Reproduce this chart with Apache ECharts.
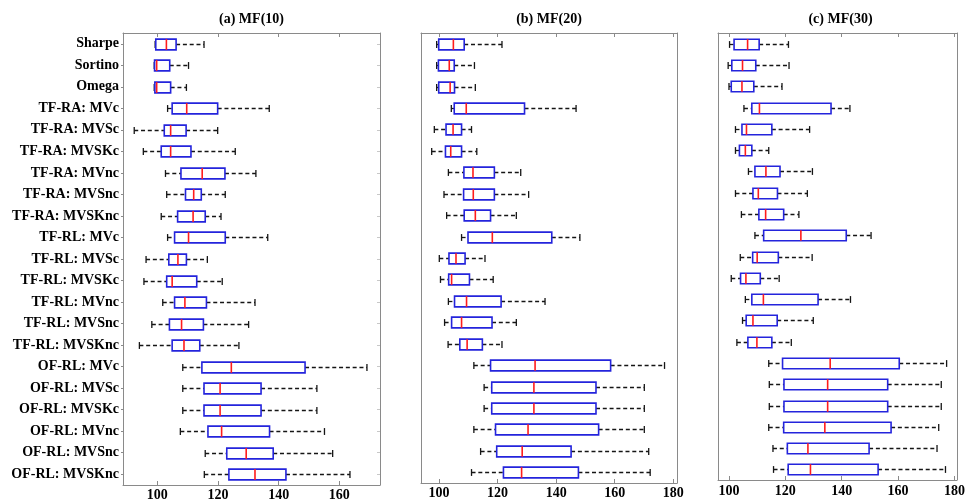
<!DOCTYPE html>
<html>
<head>
<meta charset="utf-8">
<script src="https://cdn.jsdelivr.net/npm/echarts@6/dist/echarts.min.js"></script>
<style>
html,body{margin:0;padding:0;background:#fff;}
#c{width:968px;height:502px;}
</style>
</head>
<body>
<div id="c"></div>
<script>
// ---- data ----
const categories = [
  'Sharpe','Sortino','Omega',
  'TF-RA: MVc','TF-RA: MVSc','TF-RA: MVSKc','TF-RA: MVnc','TF-RA: MVSnc','TF-RA: MVSKnc',
  'TF-RL: MVc','TF-RL: MVSc','TF-RL: MVSKc','TF-RL: MVnc','TF-RL: MVSnc','TF-RL: MVSKnc',
  'OF-RL: MVc','OF-RL: MVSc','OF-RL: MVSKc','OF-RL: MVnc','OF-RL: MVSnc','OF-RL: MVSKnc'
];
const panelTitles = ['(a) MF(10)', '(b) MF(20)', '(c) MF(30)'];
// [lower whisker, Q1, median, Q3, upper whisker]
const mf10 = [
  [99.3, 99.5, 103.0, 106.2, 115.4],
  [99.0, 99.1, 99.8, 104.1, 110.3],
  [99.0, 99.2, 99.8, 104.4, 109.6],
  [103.4, 104.9, 109.7, 119.9, 136.9],
  [92.4, 102.3, 104.4, 109.5, 119.9],
  [95.4, 101.3, 104.4, 111.1, 125.7],
  [102.7, 107.8, 114.8, 122.3, 132.5],
  [103.1, 109.3, 112.0, 114.5, 122.4],
  [101.3, 106.7, 111.8, 115.8, 121.0],
  [103.4, 105.7, 110.3, 122.4, 136.4],
  [96.3, 103.8, 106.8, 109.6, 116.5],
  [95.6, 103.1, 104.9, 113.0, 121.4],
  [101.8, 105.7, 109.1, 116.2, 132.2],
  [98.2, 104.0, 108.0, 115.2, 130.1],
  [94.1, 104.9, 108.8, 114.0, 126.9],
  [108.4, 114.7, 124.4, 148.7, 169.1],
  [108.4, 115.4, 120.7, 134.2, 152.6],
  [108.4, 115.4, 120.7, 134.2, 152.6],
  [107.6, 116.7, 121.2, 137.0, 155.1],
  [115.8, 122.9, 129.3, 138.2, 157.8],
  [115.5, 123.6, 132.2, 142.4, 163.5]
];
const mf20 = [
  [99.2, 99.9, 104.9, 108.6, 121.5],
  [99.2, 99.8, 103.5, 105.2, 112.1],
  [99.2, 99.9, 103.8, 105.3, 112.4],
  [104.2, 105.2, 109.3, 129.2, 146.8],
  [98.4, 102.4, 104.8, 107.7, 111.1],
  [97.5, 102.2, 104.0, 107.7, 112.9],
  [103.2, 108.5, 111.6, 118.9, 127.9],
  [101.7, 108.4, 111.7, 118.9, 130.6],
  [102.6, 108.6, 112.4, 117.6, 126.4],
  [107.7, 109.9, 118.2, 138.5, 148.1],
  [100.1, 103.4, 105.8, 108.9, 115.7],
  [100.5, 103.3, 104.3, 110.4, 118.5],
  [103.2, 105.3, 109.4, 121.2, 136.2],
  [101.9, 104.3, 107.7, 118.1, 126.4],
  [103.1, 107.1, 109.6, 114.8, 121.5],
  [111.9, 117.6, 132.8, 158.6, 177.0],
  [115.4, 118.0, 132.4, 153.6, 170.1],
  [115.4, 118.0, 132.4, 153.6, 170.1],
  [111.9, 119.3, 130.4, 154.5, 170.1],
  [114.2, 119.7, 128.4, 145.1, 171.6],
  [111.1, 122.0, 128.2, 147.6, 172.1]
];
const mf30 = [
  [100.2, 101.8, 106.6, 110.7, 121.1],
  [99.7, 101.0, 104.8, 109.5, 121.3],
  [100.0, 100.8, 104.6, 108.8, 118.8],
  [105.3, 108.1, 110.8, 136.2, 142.9],
  [102.3, 104.6, 106.2, 115.2, 128.6],
  [102.3, 103.7, 105.8, 108.1, 114.1],
  [106.9, 109.2, 113.1, 118.1, 129.6],
  [102.3, 108.5, 110.4, 117.2, 127.8],
  [104.4, 110.6, 113.0, 119.4, 124.8],
  [109.2, 112.3, 125.5, 141.6, 150.4],
  [104.0, 108.4, 110.0, 117.5, 129.5],
  [100.8, 104.1, 106.0, 111.1, 117.8],
  [105.8, 108.1, 112.2, 131.6, 143.1],
  [104.8, 106.1, 108.5, 117.1, 129.9],
  [102.8, 106.7, 109.9, 115.2, 122.1],
  [114.1, 119.0, 135.9, 160.4, 177.2],
  [114.3, 119.5, 135.0, 156.3, 175.3],
  [114.3, 119.5, 135.0, 156.3, 175.3],
  [114.1, 119.4, 134.0, 157.5, 174.4],
  [115.6, 120.7, 128.0, 149.7, 173.8],
  [115.8, 121.0, 128.9, 152.9, 176.8]
];
const ticksA = [100, 120, 140, 160];
const ticksBC = [100, 120, 140, 160, 180];
const axisRanges = [[88.7, 173.4], [93.85, 181.26], [96.1, 180.8]];

// ---- layout ----
const grids = [
  {left: 123, top: 33, width: 257, height: 452},
  {left: 421, top: 33, width: 256, height: 450},
  {left: 718, top: 33, width: 245, height: 447}
];
const FRAME = '#8a8a8a';
const FONT = '"Liberation Serif", "Times New Roman", serif';
const BLUE = '#2424dc';
const RED = '#ff1c1c';
const BLACK = '#151515';

const panels = [mf10, mf20, mf30];
const tickSets = [ticksA, ticksBC, ticksBC];

const xAxes = [], yAxes = [], series = [], graphics = [];
panels.forEach((data, i) => {
  const g = grids[i];
  xAxes.push({
    type: 'value', gridIndex: i, position: 'bottom',
    min: axisRanges[i][0], max: axisRanges[i][1],
    splitLine: {show: false},
    axisLine: {show: true, lineStyle: {color: FRAME, width: 1}},
    axisTick: {show: true, inside: true, length: 4, customValues: tickSets[i], lineStyle: {color: FRAME}},
    axisLabel: {show: true, customValues: tickSets[i], margin: i === 2 ? 4 : 3, color: '#000',
      fontFamily: FONT, fontWeight: 'bold', fontSize: 14}
  });
  xAxes.push({
    type: 'value', gridIndex: i, position: 'top',
    min: axisRanges[i][0], max: axisRanges[i][1],
    splitLine: {show: false},
    axisLine: {show: true, lineStyle: {color: FRAME, width: 1}},
    axisTick: {show: true, inside: true, length: 4, customValues: tickSets[i], lineStyle: {color: FRAME}},
    axisLabel: {show: false}
  });
  yAxes.push({
    type: 'category', gridIndex: i, position: 'left', inverse: true,
    data: categories,
    axisLine: {show: true, lineStyle: {color: FRAME, width: 1}},
    axisTick: {show: i === 0, alignWithLabel: true, inside: false, length: 2, lineStyle: {color: FRAME}},
    axisLabel: {show: i === 0, margin: 4, color: '#000', fontFamily: FONT, fontWeight: 'bold', fontSize: 14, interval: 0},
    splitLine: {show: false}
  });
  yAxes.push({
    type: 'category', gridIndex: i, position: 'right', inverse: true,
    data: categories,
    axisLine: {show: true, lineStyle: {color: FRAME, width: 1}},
    axisTick: {show: i === 0, alignWithLabel: true, inside: true, length: 3, lineStyle: {color: '#c8c8c8'}},
    axisLabel: {show: false},
    splitLine: {show: false}
  });
  series.push({
    type: 'custom',
    xAxisIndex: i * 2, yAxisIndex: i * 2,
    coordinateSystem: 'cartesian2d',
    encode: {x: [1, 2, 3, 4, 5], y: 0},
    data: data.map((d, k) => [k].concat(d)),
    renderItem: function (params, api) {
      const cat = api.value(0);
      const v = [1, 2, 3, 4, 5].map(j => api.value(j));
      const band = api.size([0, 1])[1];
      const xs = v.map(val => api.coord([val, cat])[0]);
      const y = Math.round(api.coord([v[0], cat])[1]) + 0.5;
      const hb = band * 0.25, hc = band * 0.16;
      const dash = {stroke: BLACK, lineWidth: 1.3, lineDash: [4, 2.8]};
      return {
        type: 'group',
        children: [
          {type: 'line', shape: {x1: xs[0], y1: y, x2: xs[1], y2: y}, style: dash},
          {type: 'line', shape: {x1: xs[3], y1: y, x2: xs[4], y2: y}, style: dash},
          {type: 'line', shape: {x1: xs[0], y1: y - hc, x2: xs[0], y2: y + hc}, style: {stroke: BLACK, lineWidth: 1.3}},
          {type: 'line', shape: {x1: xs[4], y1: y - hc, x2: xs[4], y2: y + hc}, style: {stroke: BLACK, lineWidth: 1.3}},
          {type: 'rect', shape: {x: xs[1], y: y - hb, width: xs[3] - xs[1], height: 2 * hb},
            style: {fill: '#fff', stroke: BLUE, lineWidth: 1.6}},
          {type: 'line', shape: {x1: xs[2], y1: y - hb, x2: xs[2], y2: y + hb}, style: {stroke: RED, lineWidth: 1.6}}
        ]
      };
    }
  });
  graphics.push({
    type: 'text', x: g.left + g.width / 2, y: 19,
    style: {text: panelTitles[i], font: 'bold 14px ' + FONT, fill: '#000', align: 'center', verticalAlign: 'middle'}
  });
});

const chart = echarts.init(document.getElementById('c'), null, {renderer: 'canvas'});
chart.setOption({
  animation: false,
  backgroundColor: '#fff',
  grid: grids,
  xAxis: xAxes,
  yAxis: yAxes,
  series: series,
  graphic: graphics
});
</script>
</body>
</html>
